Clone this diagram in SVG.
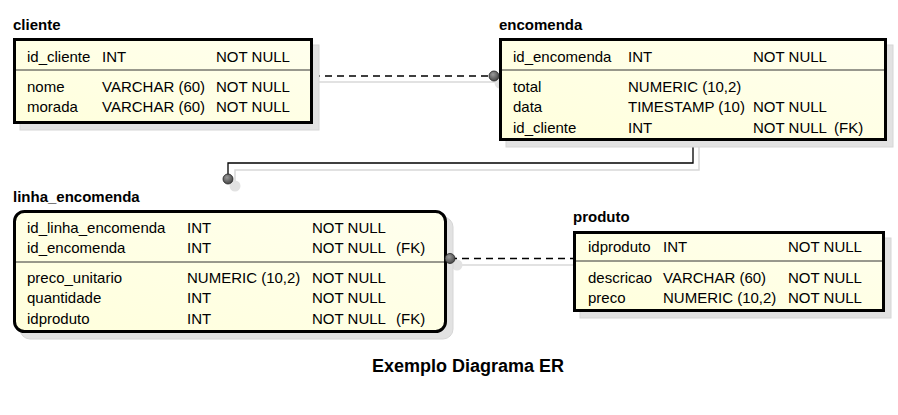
<svg xmlns="http://www.w3.org/2000/svg" width="898" height="415" viewBox="0 0 898 415">
<defs>
<linearGradient id="fillg" x1="0" y1="1" x2="1" y2="0">
<stop offset="0" stop-color="#FFFFDC"/>
<stop offset="1" stop-color="#FFFFEE"/>
</linearGradient>
<radialGradient id="dot" cx="0.4" cy="0.35" r="0.7">
<stop offset="0" stop-color="#9a9a9a"/>
<stop offset="1" stop-color="#404040"/>
</radialGradient>
</defs>
<style>
.shadow{fill:#e2e2e2;stroke:#d6d6d6;stroke-width:1}
.box{fill:url(#fillg);stroke:#000;stroke-width:3}
.div{stroke:#333;stroke-width:1}
.title{font-family:"Liberation Sans",Arial,sans-serif;font-weight:bold;font-size:15px;fill:#000}
.t{font-family:"Liberation Sans",Arial,sans-serif;font-size:15px;fill:#000}
.cap{font-family:"Liberation Sans",Arial,sans-serif;font-weight:bold;font-size:18px;fill:#000}
.conn{fill:none;stroke:#000;stroke-width:1.3}
.dash{stroke-dasharray:7,5}
.cshadow{fill:none;stroke:#d8d8d8;stroke-width:1.5}
.dot{fill:url(#dot);stroke:#222;stroke-width:0.8}
.dotsh{fill:#e2e2e2}
</style>
<g id="connectors">
<path class="cshadow" d="M319 82 H500"/>
<path class="cshadow" d="M699 147 V170 H235 V186"/>
<path class="cshadow" d="M457 265 H579"/>
<circle class="dotsh" cx="500" cy="83" r="5.5"/>
<circle class="dotsh" cx="235" cy="186" r="5.5"/>
<circle class="dotsh" cx="457" cy="265" r="5.5"/>
<path class="conn dash" d="M313 76 H495"/>
<path class="conn" d="M693 141 V163 H228 V179"/>
<path class="conn dash" d="M450 258.5 H573"/>
</g>
<g id="cliente">
<rect class="shadow" x="20" y="45" width="299" height="85"/>
<rect class="box" x="14.5" y="39.5" width="297" height="83"/>
<line class="div" x1="16" y1="70" x2="310" y2="70"/>
<text class="title" x="13" y="30">cliente</text>
<text class="t" x="27" y="62">id_cliente</text><text class="t" x="102" y="62">INT</text><text class="t" x="216" y="62">NOT NULL</text>
<text class="t" x="27" y="92">nome</text><text class="t" x="102" y="92">VARCHAR (60)</text><text class="t" x="216" y="92">NOT NULL</text>
<text class="t" x="27" y="112">morada</text><text class="t" x="102" y="112">VARCHAR (60)</text><text class="t" x="216" y="112">NOT NULL</text>
</g>
<g id="encomenda">
<rect class="shadow" x="506" y="45" width="387" height="102"/>
<rect class="box" x="500.5" y="39.5" width="385" height="100"/>
<line class="div" x1="502" y1="70" x2="884" y2="70"/>
<text class="title" x="499" y="30">encomenda</text>
<text class="t" x="513" y="62">id_encomenda</text><text class="t" x="628" y="62">INT</text><text class="t" x="753" y="62">NOT NULL</text>
<text class="t" x="513" y="92">total</text><text class="t" x="628" y="92">NUMERIC (10,2)</text>
<text class="t" x="513" y="112">data</text><text class="t" x="628" y="112">TIMESTAMP (10)</text><text class="t" x="753" y="112">NOT NULL</text>
<text class="t" x="513" y="133">id_cliente</text><text class="t" x="628" y="133">INT</text><text class="t" x="753" y="133">NOT NULL</text><text class="t" x="834" y="133">(FK)</text>
</g>
<g id="linha_encomenda">
<rect class="shadow" x="20" y="217" width="433" height="122" rx="10"/>
<rect class="box" x="14.5" y="211.5" width="431" height="120" rx="10"/>
<line class="div" x1="16" y1="262" x2="444" y2="262"/>
<text class="title" x="13" y="202">linha_encomenda</text>
<text class="t" x="27" y="233">id_linha_encomenda</text><text class="t" x="187" y="233">INT</text><text class="t" x="312" y="233">NOT NULL</text>
<text class="t" x="27" y="253">id_encomenda</text><text class="t" x="187" y="253">INT</text><text class="t" x="312" y="253">NOT NULL</text><text class="t" x="396" y="253">(FK)</text>
<text class="t" x="27" y="283">preco_unitario</text><text class="t" x="187" y="283">NUMERIC (10,2)</text><text class="t" x="312" y="283">NOT NULL</text>
<text class="t" x="27" y="303">quantidade</text><text class="t" x="187" y="303">INT</text><text class="t" x="312" y="303">NOT NULL</text>
<text class="t" x="27" y="324">idproduto</text><text class="t" x="187" y="324">INT</text><text class="t" x="312" y="324">NOT NULL</text><text class="t" x="396" y="324">(FK)</text>
</g>
<g id="produto">
<rect class="shadow" x="580" y="238" width="311" height="80"/>
<rect class="box" x="574.5" y="232.5" width="309" height="78"/>
<line class="div" x1="576" y1="261" x2="882" y2="261"/>
<text class="title" x="573" y="222">produto</text>
<text class="t" x="588" y="252">idproduto</text><text class="t" x="663" y="252">INT</text><text class="t" x="788" y="252">NOT NULL</text>
<text class="t" x="588" y="283">descricao</text><text class="t" x="663" y="283">VARCHAR (60)</text><text class="t" x="788" y="283">NOT NULL</text>
<text class="t" x="588" y="303">preco</text><text class="t" x="663" y="303">NUMERIC (10,2)</text><text class="t" x="788" y="303">NOT NULL</text>
</g>
<g id="dots">
<circle class="dot" cx="494" cy="76" r="5"/>
<circle class="dot" cx="228" cy="179" r="5"/>
<circle class="dot" cx="450" cy="258.5" r="5"/>
</g>
<text class="cap" x="372" y="372">Exemplo Diagrama ER</text>
</svg>
